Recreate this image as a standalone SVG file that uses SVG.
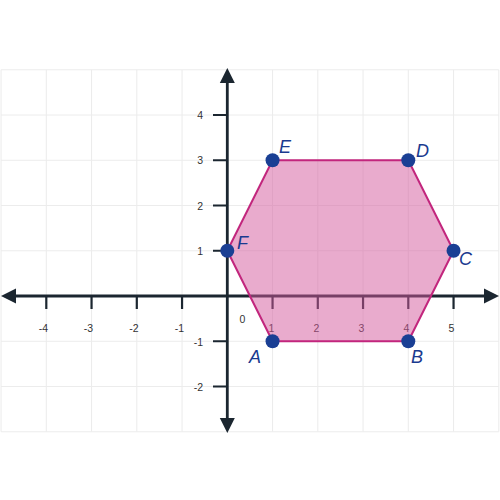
<svg xmlns="http://www.w3.org/2000/svg" width="500" height="500" viewBox="0 0 500 500">
<style>
.grid{stroke:#ececec;stroke-width:1;fill:none}
.axis{stroke:#1b2630;stroke-width:2.8;fill:none}
.tick{stroke:#1b2630;stroke-width:2.2}
.tl{font-family:"Liberation Sans",Arial,sans-serif;font-size:10.5px;fill:#333}
.pt{fill:#1a3f94}
.pl{font-family:"Liberation Sans",Arial,sans-serif;font-size:18px;font-style:italic;fill:#1a3a8f}
.ah{fill:#1b2630}
</style>
<rect width="500" height="500" fill="#fff"/>
<g id="grid" class="grid">
<path d="M1.05 69.75V431.75M46.3 69.75V431.75M91.55 69.75V431.75M136.8 69.75V431.75M182.05 69.75V431.75M272.55 69.75V431.75M317.8 69.75V431.75M363.05 69.75V431.75M408.3 69.75V431.75M453.55 69.75V431.75M498.8 69.75V431.75"/>
<path d="M1.05 69.75H498.8M1.05 115H498.8M1.05 160.25H498.8M1.05 205.5H498.8M1.05 250.75H498.8M1.05 341.25H498.8M1.05 386.5H498.8M1.05 431.75H498.8"/>
</g>
<g id="axes">
<path class="axis" d="M12 296H488M227.3 80V420"/>
<path class="ah" d="M1 296L16 288.5V303.5Z"/>
<path class="ah" d="M499 296L484 288.5V303.5Z"/>
<path class="ah" d="M227.3 68L219.8 83H234.8Z"/>
<path class="ah" d="M227.3 433L219.8 418H234.8Z"/>
<path class="tick" d="M46.3 296V309M91.55 296V309M136.8 296V309M182.05 296V309M272.55 296V309M317.8 296V309M363.05 296V309M408.3 296V309M453.55 296V309"/>
<path class="tick" d="M213 115H227.3M213 160.25H227.3M213 205.5H227.3M213 250.75H227.3M213 341.25H227.3M213 386.5H227.3"/>
</g>
<g id="tick-labels" class="tl">
<g text-anchor="middle">
<text x="43.5" y="332">-4</text>
<text x="88.5" y="332">-3</text>
<text x="134" y="332">-2</text>
<text x="179.5" y="332">-1</text>
<text x="242.5" y="323">0</text>
<text x="271.5" y="332">1</text>
<text x="316.5" y="332">2</text>
<text x="361.5" y="332">3</text>
<text x="406.5" y="332">4</text>
<text x="451.5" y="332">5</text>
</g>
<g text-anchor="end">
<text x="203" y="119">4</text>
<text x="203" y="164">3</text>
<text x="203" y="209.5">2</text>
<text x="203" y="254.5">1</text>
<text x="203" y="345.5">-1</text>
<text x="203" y="390.5">-2</text>
</g>
</g>
<g id="hexagon">
<polygon points="272.55,341.25 408.3,341.25 453.55,250.75 408.3,160.25 272.55,160.25 227.3,250.75" fill="#d4589c" fill-opacity="0.5" stroke="#c2267d" stroke-width="2" stroke-linejoin="round"/>
</g>
<g id="point-A"><circle class="pt" cx="272.55" cy="341.25" r="7"/><text class="pl" x="249" y="363">A</text></g>
<g id="point-B"><circle class="pt" cx="408.3" cy="341.25" r="7"/><text class="pl" x="411" y="363">B</text></g>
<g id="point-C"><circle class="pt" cx="453.55" cy="250.75" r="7"/><text class="pl" x="459" y="265">C</text></g>
<g id="point-D"><circle class="pt" cx="408.3" cy="160.25" r="7"/><text class="pl" x="416" y="157">D</text></g>
<g id="point-E"><circle class="pt" cx="272.55" cy="160.25" r="7"/><text class="pl" x="279" y="153">E</text></g>
<g id="point-F"><circle class="pt" cx="227.3" cy="250.75" r="7"/><text class="pl" x="237" y="249">F</text></g>
</svg>
